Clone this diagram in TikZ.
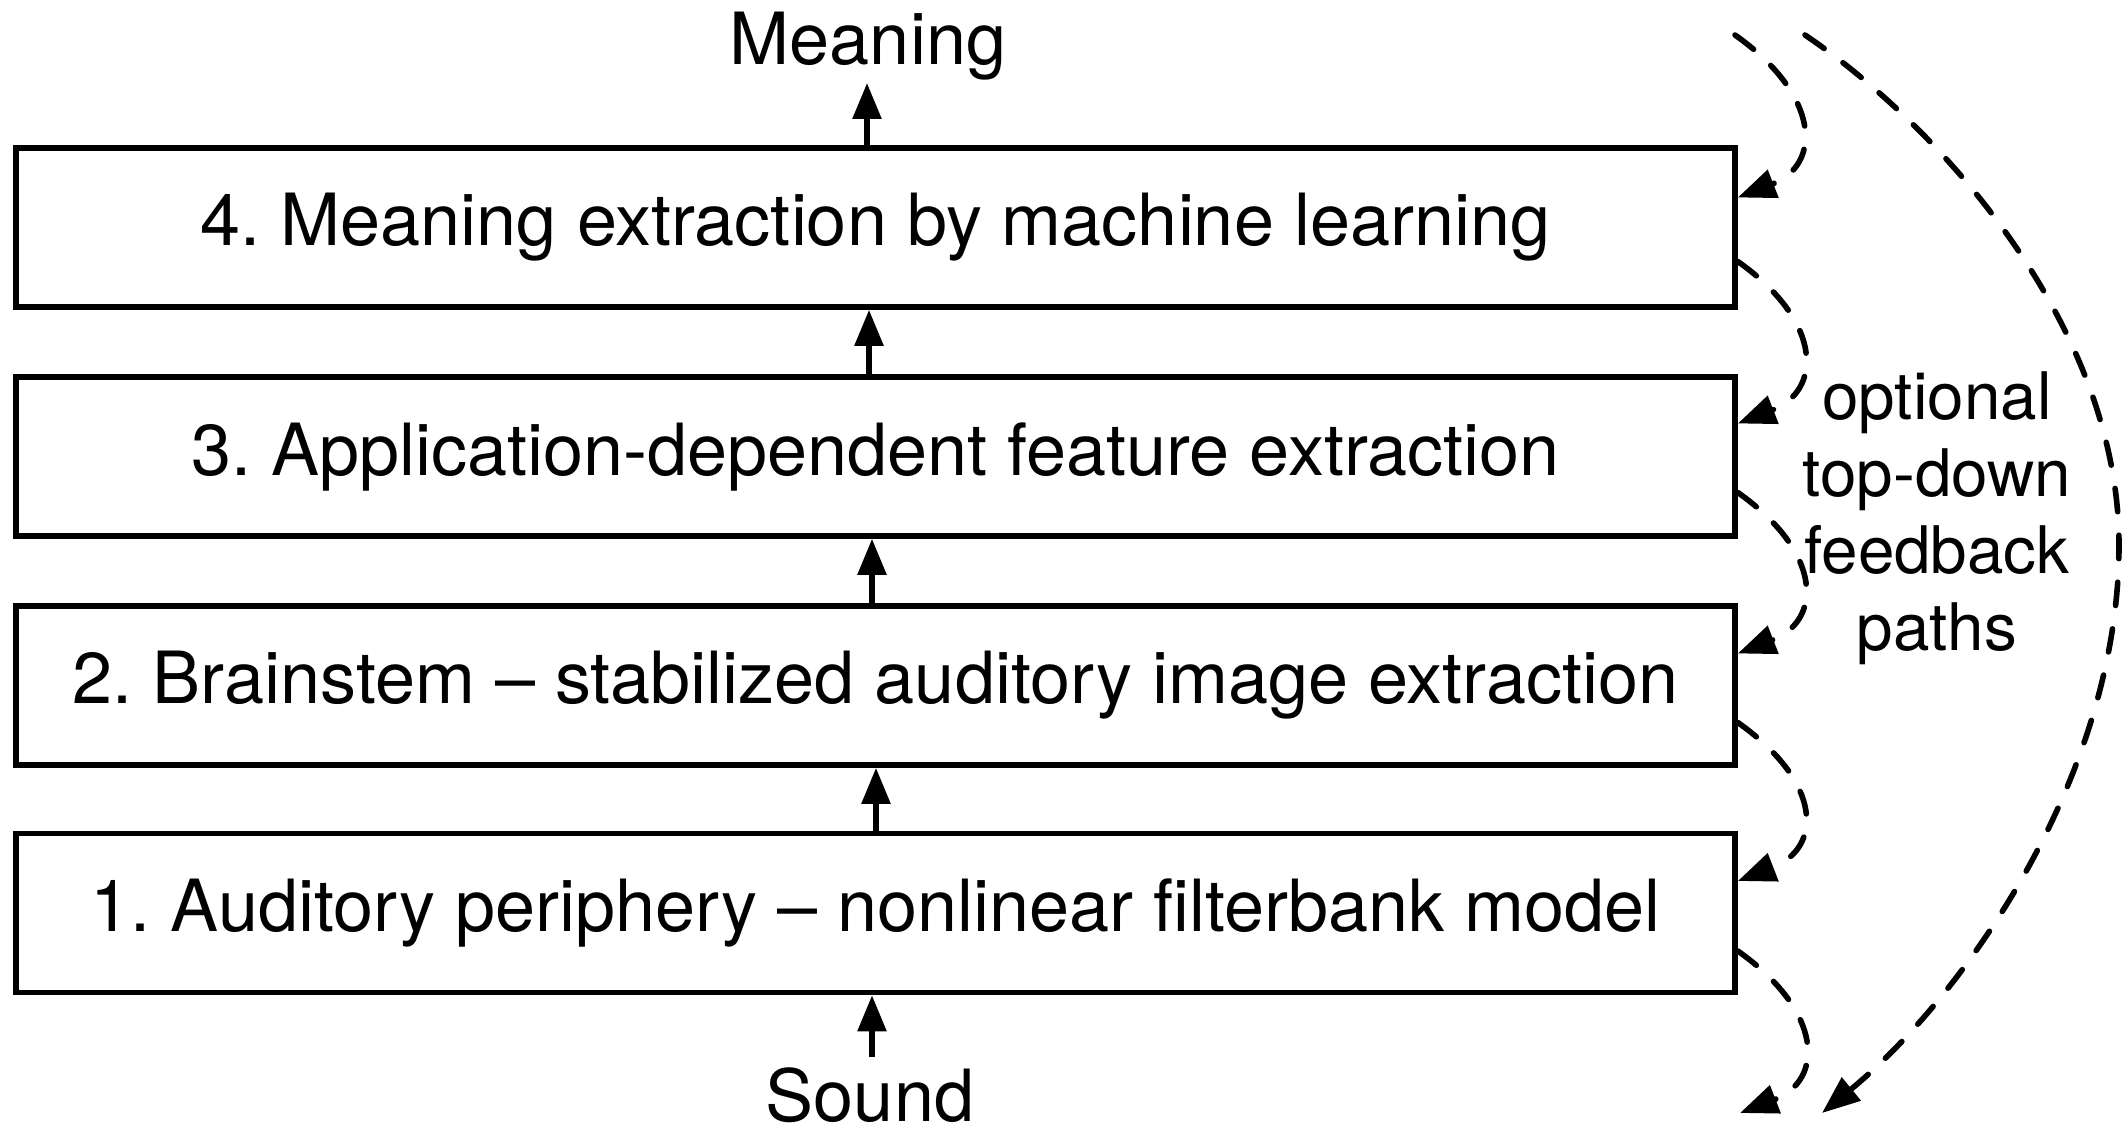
\documentclass[tikz,border=0pt]{standalone}
\usepackage{fontspec}
\setmainfont{TeX Gyre Heros}
\usetikzlibrary{arrows.meta,calc}
\frenchspacing
\begin{document}
\frenchspacing
\begin{tikzpicture}[x=0.5pt,y=-0.5pt,
  stage/.style={draw, line width=2.8pt, minimum width=859.5pt, minimum height=79.5pt, inner sep=0pt, font=\fontsize{36}{43}\selectfont},
  lbl/.style={font=\fontsize{36}{43}\selectfont, inner sep=0pt},
  uparr/.style={line width=2.8pt, -{Triangle[length=18pt,width=14pt]}},
  fbarr/.style={line width=2.8pt, dash pattern=on 11.7pt off 11.8pt, line cap=round, -{Triangle[length=19pt,width=14.5pt]}}]
\useasboundingbox (0,0) rectangle (2126,1133);
% stages
\node[stage] (b4) at (875.5,227.5) {4. Meaning extraction by machine learning};
\node[stage] (b3) at (875.5,456.5) {3. Application-dependent feature extraction};
\node[stage] (b2) at (875.5,685.5) {2. Brainstem -- stabilized auditory image extraction};
\node[stage] (b1) at (875.5,913) {1. Auditory periphery -- nonlinear filterbank model};
% labels
\node[lbl, anchor=base] (meaning) at (868,65) {Meaning};
\node[lbl, anchor=base] (sound) at (870,1121) {Sound};
\node[font=\fontsize{32.8}{38.5}\selectfont, align=center, inner sep=0pt] (side) at (1937,518) {optional\\top-down\\feedback\\paths};
% bottom-up arrows
\coordinate (mtip) at (867,83);
\coordinate (stail) at (872,1057);
\draw[uparr] ([xshift=-4.25pt]b4.north) -- (mtip);
\draw[uparr] ([xshift=-3.25pt]b3.north) -- ([xshift=-3.25pt]b4.south);
\draw[uparr] ([xshift=-1.75pt]b2.north) -- ([xshift=-1.75pt]b3.south);
\draw[uparr] ([xshift=0.25pt]b1.north) -- ([xshift=0.25pt]b2.south);
\draw[uparr] (stail) -- ([xshift=-1.75pt]b1.south);
% small feedback paths
\coordinate (f0) at (1735,35);
\coordinate (f5) at (1740,1113);
\coordinate (s4) at ([yshift=-17pt]b4.east);
\coordinate (s3) at ([yshift=-18pt]b3.east);
\coordinate (s2) at ([yshift=-18.5pt]b2.east);
\coordinate (s1) at ([yshift=-19pt]b1.east);
\coordinate (e4) at ([yshift=15pt]b4.east);
\coordinate (e3) at ([yshift=16.5pt]b3.east);
\coordinate (e2) at ([yshift=16pt]b2.east);
\coordinate (e1) at ([yshift=16pt]b1.east);
\draw[fbarr] (f0) .. controls ($(f0)+(85,60)$) and ($(e4)+(85,-33)$) .. (e4);
\draw[fbarr] (s4) .. controls ($(s4)+(85,60)$) and ($(e3)+(85,-33)$) .. (e3);
\draw[fbarr] (s3) .. controls ($(s3)+(85,60)$) and ($(e2)+(85,-33)$) .. (e2);
\draw[fbarr] (s2) .. controls ($(s2)+(85,60)$) and ($(e1)+(85,-33)$) .. (e1);
\draw[fbarr] (s1) .. controls ($(s1)+(85,60)$) and ($(f5)+(85,-33)$) .. (f5);
% long feedback path
\coordinate (g0) at (1805,35);
\coordinate (g1) at (2119,545);
\coordinate (g2) at (1822,1113);
\draw[fbarr] (g0) .. controls (1945,130) and (2119,330) .. (g1) .. controls (2119,780) and (1960,1000) .. (g2);
\end{tikzpicture}
\end{document}
